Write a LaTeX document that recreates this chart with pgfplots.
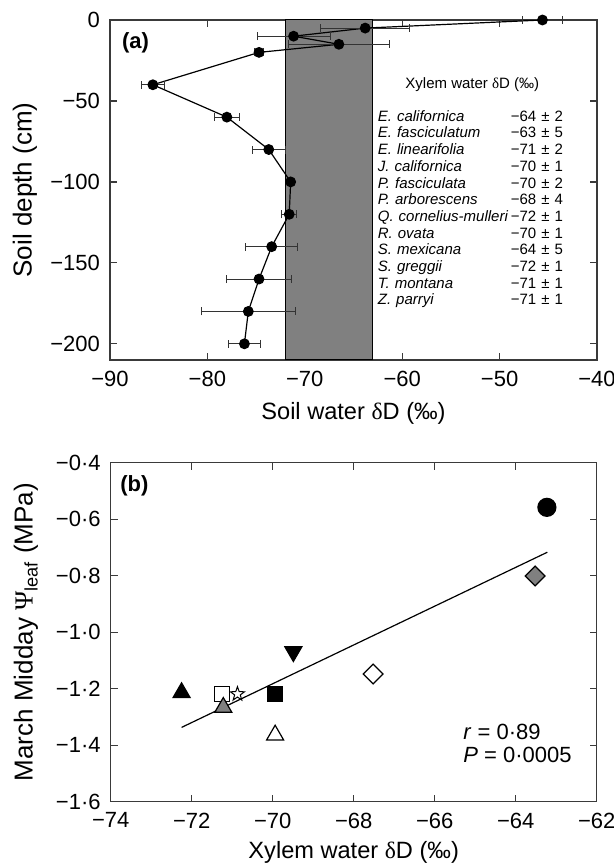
\documentclass[border=0pt]{standalone}
\usepackage{fontspec}
\setmainfont{Liberation Sans}
\newfontfamily\symf{Liberation Serif}
\usepackage{pgfplots}
\usepackage{pgfplotstable}
\pgfplotsset{compat=1.18}

\definecolor{bandgray}{HTML}{808080}
\definecolor{axisgray}{HTML}{3A3A3A}
\definecolor{markgray}{HTML}{808080}

% open five-pointed star (outline only)
\pgfdeclareplotmark{ostar}{%
  \pgfpathmoveto{\pgfpointpolar{90}{\pgfplotmarksize}}%
  \pgfpathlineto{\pgfpointpolar{126}{0.4\pgfplotmarksize}}%
  \pgfpathlineto{\pgfpointpolar{162}{\pgfplotmarksize}}%
  \pgfpathlineto{\pgfpointpolar{198}{0.4\pgfplotmarksize}}%
  \pgfpathlineto{\pgfpointpolar{234}{\pgfplotmarksize}}%
  \pgfpathlineto{\pgfpointpolar{270}{0.4\pgfplotmarksize}}%
  \pgfpathlineto{\pgfpointpolar{306}{\pgfplotmarksize}}%
  \pgfpathlineto{\pgfpointpolar{342}{0.4\pgfplotmarksize}}%
  \pgfpathlineto{\pgfpointpolar{18}{\pgfplotmarksize}}%
  \pgfpathlineto{\pgfpointpolar{54}{0.4\pgfplotmarksize}}%
  \pgfpathclose
  \pgfusepathqfillstroke}

% soil water profile: dD, depth, error
\pgfplotstableread{
x y e
-45.6 0 2.1
-63.8 -5 4.55
-71.15 -10 3.75
-66.5 -15 5.2
-74.7 -20 0.5
-85.6 -40 1.15
-78.0 -60 1.3
-73.7 -80 1.7
-71.45 -100 0.3
-71.6 -120 0.75
-73.4 -140 2.65
-74.7 -160 3.35
-75.8 -180 4.8
-76.2 -200 1.65
}\soildata

\pgfplotsset{
  panel/.style={
    scale only axis, clip=false,
    tick pos=both, tick align=inside,
    major tick length=3.5pt,
    axis line style={axisgray, line width=0.6pt},
    every tick/.style={axisgray, line width=0.6pt},
    ticklabel style={font=\fontsize{11}{13}\selectfont},
    xticklabel style={yshift=-2pt},
    yticklabel style={xshift=-1.5pt},
    xlabel style={font=\fontsize{11.8}{14}\selectfont},
    ylabel style={font=\fontsize{13}{15}\selectfont},
  },
}

\begin{document}
\begin{tikzpicture}

% ---------- (a) ----------
\begin{axis}[panel,
  at={(55pt,254pt)}, anchor=south west,
  width=243.5pt, height=170pt,
  xmin=-90, xmax=-40, ymin=-210, ymax=0,
  xtick={-90,-80,-70,-60,-50,-40},
  xticklabels={−90,−80,−70,−60,−50,−40},
  ytick={-200,-150,-100,-50,0},
  yticklabels={−200,−150,−100,−50,0},
  xlabel={Soil water {\symf δ}D (‰)},
  ylabel={Soil depth (cm)},
  xlabel style={at={(axis description cs:0.5,-0.158)}, anchor=center},
  ylabel style={at={(axis description cs:-0.1745,0.5)}, anchor=center},
]
\addplot[draw=black, line width=0.5pt, fill=bandgray]
  coordinates {(-72,-210) (-63,-210) (-63,0) (-72,0)} -- cycle;
\addplot[black, line width=0.6pt, mark=*, mark size=2.4pt,
  error bars/.cd, x dir=both, x explicit, error mark=|,
  error bar style={line width=0.5pt, black!80},
  error mark options={mark size=2pt, line width=0.5pt, black!80}]
  table[x=x, y=y, x error=e] {\soildata};
\node[anchor=west, inner sep=0pt, font=\bfseries\fontsize{11}{13}\selectfont]
  at (axis cs:-88.8,-14.2) {(a)};
\node[anchor=center, inner sep=0pt, font=\fontsize{7.5}{8.35}\selectfont]
  at (axis cs:-52.8,-40) {Xylem water {\symf δ}D (‰)};
\node[anchor=north west, inner sep=0pt, text width=92.5pt, align=left,
  font=\fontsize{7.5}{8.35}\selectfont] at (axis cs:-62.54,-55.6) {%
  \textit{E. californica}\hfill −64 ± 2\\
  \textit{E. fasciculatum}\hfill −63 ± 5\\
  \textit{E. linearifolia}\hfill −71 ± 2\\
  \textit{J. californica}\hfill −70 ± 1\\
  \textit{P. fasciculata}\hfill −70 ± 2\\
  \textit{P. arborescens}\hfill −68 ± 4\\
  \textit{Q. cornelius-mulleri}\hfill −72 ± 1\\
  \textit{R. ovata}\hfill −70 ± 1\\
  \textit{S. mexicana}\hfill −64 ± 5\\
  \textit{S. greggii}\hfill −72 ± 1\\
  \textit{T. montana}\hfill −71 ± 1\\
  \textit{Z. parryi}\hfill −71 ± 1};
\end{axis}

% ---------- (b) ----------
\begin{axis}[panel,
  at={(55.35pt,33.15pt)}, anchor=south west,
  width=243pt, height=169.5pt,
  xmin=-74, xmax=-62, ymin=-1.6, ymax=-0.4,
  xtick={-74,-72,-70,-68,-66,-64,-62},
  xticklabels={−74,−72,−70,−68,−66,−64,−62},
  ytick={-1.6,-1.4,-1.2,-1.0,-0.8,-0.6,-0.4},
  yticklabels={−1·6,−1·4,−1·2,−1·0,−0·8,−0·6,−0·4},
  xlabel={Xylem water {\symf δ}D (‰)},
  ylabel={March Midday {\symf Ψ}\textsubscript{leaf} (MPa)},
  xlabel style={at={(axis description cs:0.5,-0.15)}, anchor=center},
  ylabel style={at={(axis description cs:-0.1745,0.5)}, anchor=center},
  every axis plot/.append style={only marks, line width=0.6pt},
]
\addplot[no marks, sharp plot, black, line width=0.6pt]
  coordinates {(-72.25,-1.337) (-63.22,-0.717)};
\addplot[mark=*, mark size=4.5pt, draw=black, fill=black]
  coordinates {(-63.23,-0.558)};
\addplot[mark=square*, mark size=3.5pt, mark options={rotate=45, draw=black, fill=markgray}]
  coordinates {(-63.52,-0.801)};
\addplot[mark=square*, mark size=3.5pt, mark options={rotate=45, draw=black, fill=white}]
  coordinates {(-67.52,-1.148)};
\addplot[mark=triangle*, mark size=4.9pt, mark options={rotate=180, draw=black, fill=black}]
  coordinates {(-69.49,-1.069)};
\addplot[mark=square*, mark size=3.75pt, mark options={draw=black, fill=black}]
  coordinates {(-69.94,-1.219)};
\addplot[mark=triangle*, mark size=4.9pt, mark options={draw=black, fill=white}]
  coordinates {(-69.94,-1.364)};
\addplot[mark=triangle*, mark size=4.9pt, mark options={draw=black, fill=black}]
  coordinates {(-72.25,-1.214)};
\addplot[mark=square*, mark size=3.75pt, mark options={draw=black, fill=white}]
  coordinates {(-71.26,-1.219)};
\addplot[mark=ostar, mark size=3.7pt, mark options={draw=black, fill=white, line width=0.5pt}]
  coordinates {(-70.87,-1.219)};
\addplot[mark=triangle*, mark size=4.9pt, mark options={draw=black, fill=markgray}]
  coordinates {(-71.22,-1.266)};
\node[anchor=west, inner sep=0pt, font=\bfseries\fontsize{11}{13}\selectfont]
  at (axis cs:-73.77,-0.4825) {(b)};
\node[anchor=west, inner sep=0pt, align=left, font=\fontsize{11}{11.6}\selectfont]
  at (axis cs:-65.3,-1.394) {\textit{r} = 0·89\\\textit{P} = 0·0005};
\end{axis}

\pgfresetboundingbox
\useasboundingbox (0,0) rectangle (307pt,434pt);
\end{tikzpicture}
\end{document}
